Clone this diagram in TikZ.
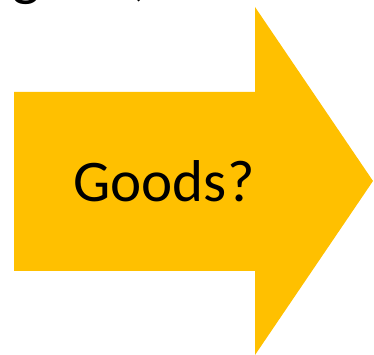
\documentclass[tikz,border=0pt]{standalone}
\usepackage{fontspec}
\setmainfont{Carlito}
\usepackage{tikz}
\usetikzlibrary{positioning}
\definecolor{arrowgold}{HTML}{FFC000}

\begin{document}
\begin{tikzpicture}[x=1pt, y=1pt,
    bigtext/.style={font=\fontsize{59}{70}\selectfont, inner sep=0pt},
    cuttext/.style={bigtext, anchor=base west}]
  \useasboundingbox (0,0) rectangle (374,355);
  \clip (0,0) rectangle (374,355);
  % big arrow
  \fill[arrowgold] (14,263) -- (255,263) -- (255,348) -- (373,174)
        -- (255,0) -- (255,84) -- (14,84) -- cycle;
  \node[bigtext] (goods) at (164,174) {Goods?};
  % cut-off line above
  \node[cuttext] (cutg) at (12,360) {g};
  \node[cuttext] (cutc) at (133,360) {,};
\end{tikzpicture}
\end{document}
